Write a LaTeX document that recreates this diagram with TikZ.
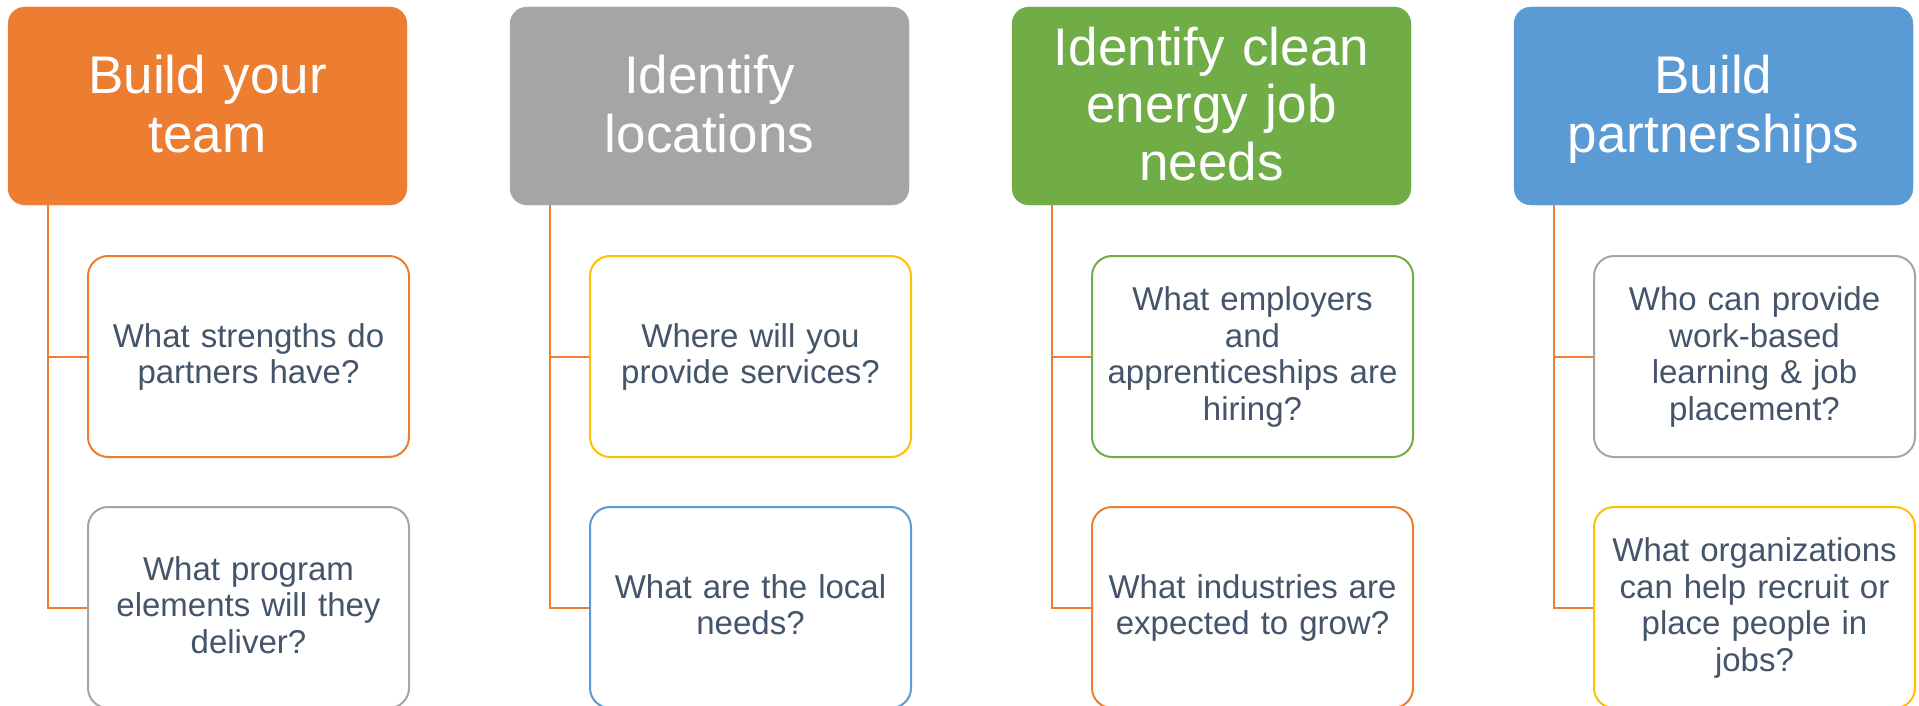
\documentclass[tikz,border=0pt]{standalone}
\usepackage{fontspec}
\setmainfont{Liberation Sans}
\usetikzlibrary{positioning}

\definecolor{accorange}{HTML}{ED7D31}
\definecolor{accgray}{HTML}{A5A5A5}
\definecolor{accgreen}{HTML}{70AD47}
\definecolor{accblue}{HTML}{5B9BD5}
\definecolor{accgold}{HTML}{FFC000}
\definecolor{slatetext}{HTML}{44546A}

% fixed line boxes so descenders do not move the text
\newcommand{\headstrut}{\rule[-12pt]{0pt}{58pt}}
\newcommand{\askstrut}{\rule[-8pt]{0pt}{34pt}}

\tikzset{
  header/.style={fill=#1, draw=#1, rounded corners=17pt, inner sep=0pt,
    text width=399pt, minimum height=198pt, align=center, text=white,
    font=\fontsize{53}{57.5}\selectfont,
    execute at begin node=\headstrut, execute at end node=\headstrut},
  question/.style={draw=#1, fill=white, line width=2pt, rounded corners=20pt,
    inner sep=0pt, text width=321pt, minimum height=201pt, align=center,
    text=slatetext, font=\fontsize{33}{36.5}\selectfont,
    execute at begin node=\askstrut, execute at end node=\askstrut},
  link/.style={draw=accorange, line width=2pt}
}

\begin{document}
\begin{tikzpicture}[x=1pt,y=-1pt,node distance=502pt,on grid]
	\clip (0,0) rectangle (1919,706);
	% top row
	\node[header=accorange] (h_team) at (207.5,106) {Build your\\team};
	\node[header=accgray] (h_loc) [right = of h_team] {Identify\\locations};
	\node[header=accgreen] (h_jobs) [right = of h_loc] {Identify clean\\energy job\\needs};
	\node[header=accblue] (h_part) [right = of h_jobs] {Build\\partnerships};
	% questions
	\node[question=accorange] (q_team1) [below right = 250.5pt and 41pt of h_team] {What strengths do\\partners have?};
	\node[question=accgray] (q_team2) [below = 251pt of q_team1] {What program\\elements will they\\deliver?};
	\node[question=accgold] (q_loc1) [below right = 250.5pt and 41pt of h_loc] {Where will you\\provide services?};
	\node[question=accblue] (q_loc2) [below = 251pt of q_loc1] {What are the local\\needs?};
	\node[question=accgreen] (q_jobs1) [below right = 250.5pt and 41pt of h_jobs] {What employers\\and\\apprenticeships are\\hiring?};
	\node[question=accorange] (q_jobs2) [below = 251pt of q_jobs1] {What industries are\\expected to grow?};
	\node[question=accgray] (q_part1) [below right = 250.5pt and 41pt of h_part] {Who can provide\\work-based\\learning \& job\\placement?};
	\node[question=accgold] (q_part2) [below = 251pt of q_part1] {What organizations\\can help recruit or\\place people in\\jobs?};
	% connectors
	\draw[link] ([xshift=40pt]h_team.south west) |- (q_team1.west);
	\draw[link] ([xshift=40pt]h_team.south west) |- (q_team2.west);
	\draw[link] ([xshift=40pt]h_loc.south west) |- (q_loc1.west);
	\draw[link] ([xshift=40pt]h_loc.south west) |- (q_loc2.west);
	\draw[link] ([xshift=40pt]h_jobs.south west) |- (q_jobs1.west);
	\draw[link] ([xshift=40pt]h_jobs.south west) |- (q_jobs2.west);
	\draw[link] ([xshift=40pt]h_part.south west) |- (q_part1.west);
	\draw[link] ([xshift=40pt]h_part.south west) |- (q_part2.west);
\end{tikzpicture}
\end{document}
